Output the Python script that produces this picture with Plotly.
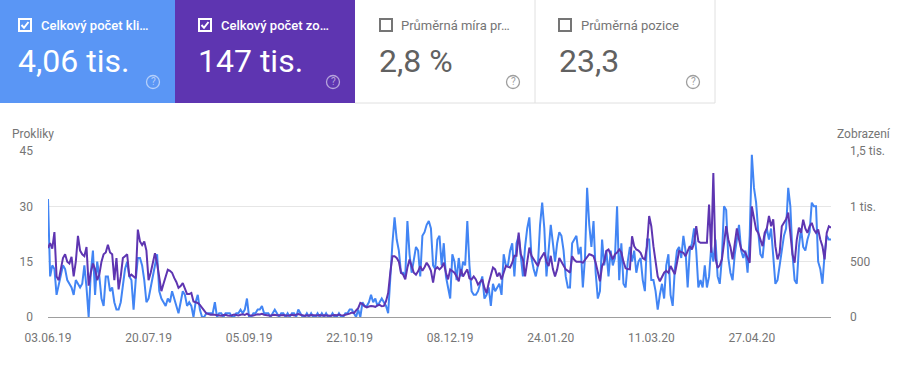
import pandas as pd
import plotly.graph_objects as go

# ---------------- data ----------------
start_date = "2019-06-03"

clicks = [
    32, 11, 14, 13, 6, 9, 12, 14, 13, 10,
    9, 8, 6, 10, 9, 8, 9, 14, 8, 0,
    12, 18, 6, 15, 11, 5, 3, 11, 11, 7,
    8, 4, 2, 2, 4, 9, 13, 15, 11, 10,
    2, 10, 16, 16, 14, 10, 4, 5, 8, 11,
    14, 17, 7, 5, 4, 3, 5, 4, 7, 5,
    3, 1, 4, 7, 6, 3, 4, 3, 0, 4,
    6, 2, 0, 0, 1, 1, 1, 1, 4, 0,
    1, 1, 0, 1, 1, 1, 0, 0, 1, 1,
    2, 1, 2, 5, 0, 0, 1, 1, 2, 2,
    3, 1, 1, 1, 0, 1, 2, 1, 0, 1,
    1, 0, 1, 0, 1, 1, 0, 2, 1, 0,
    0, 1, 0, 1, 0, 0, 1, 0, 1, 0,
    1, 0, 0, 1, 0, 0, 1, 0, 0, 1,
    1, 2, 2, 1, 0, 2, 0, 4, 3, 3,
    4, 6, 4, 5, 3, 4, 5, 4, 3, 1,
    11, 20, 27, 21, 18, 12, 12, 11, 26, 17,
    12, 16, 19, 18, 11, 22, 23, 25, 26, 24,
    14, 13, 21, 22, 14, 20, 11, 8, 5, 17,
    15, 10, 16, 11, 15, 14, 26, 14, 7, 6,
    6, 7, 9, 11, 5, 6, 8, 3, 9, 7,
    8, 9, 6, 17, 14, 14, 18, 20, 11, 20,
    22, 16, 11, 19, 24, 27, 16, 13, 11, 14,
    25, 31, 24, 11, 18, 25, 20, 15, 20, 23,
    22, 18, 11, 8, 8, 20, 21, 22, 17, 19,
    8, 16, 35, 25, 19, 26, 12, 5, 7, 21,
    14, 18, 11, 18, 14, 16, 30, 10, 20, 9,
    8, 15, 19, 15, 18, 12, 15, 16, 10, 7,
    21, 21, 10, 10, 7, 2, 6, 9, 5, 14,
    17, 6, 3, 13, 18, 19, 16, 22, 18, 8,
    18, 20, 24, 18, 8, 10, 8, 14, 8, 11,
    19, 15, 21, 11, 9, 16, 30, 29, 16, 12,
    10, 17, 21, 25, 18, 16, 18, 12, 22, 44,
    35, 31, 23, 17, 16, 22, 24, 21, 24, 16,
    9, 10, 14, 17, 22, 24, 35, 30, 17, 10,
    9, 19, 24, 19, 18, 21, 23, 31, 30, 30,
    15, 13, 9, 17, 22, 21, 21,
]

impressions = [
    623, 667, 617, 767, 367, 333, 433, 533, 567, 500,
    483, 543, 367, 500, 733, 600, 567, 550, 633, 283,
    400, 483, 433, 333, 383, 500, 567, 583, 653, 583,
    567, 333, 533, 250, 367, 533, 550, 567, 367, 383,
    367, 350, 790, 683, 650, 683, 600, 333, 400, 490,
    577, 483, 367, 233, 300, 367, 427, 417, 400, 353,
    317, 263, 280, 307, 247, 207, 207, 217, 140, 133,
    127, 110, 83, 50, 33, 27, 20, 23, 20, 17,
    15, 12, 18, 20, 14, 11, 16, 22, 18, 14,
    20, 25, 18, 30, 16, 12, 14, 19, 24, 22,
    28, 20, 17, 15, 12, 18, 21, 16, 13, 15,
    19, 14, 12, 17, 20, 15, 18, 26, 20, 14,
    12, 16, 13, 18, 15, 11, 14, 17, 13, 16,
    18, 14, 12, 16, 19, 15, 22, 17, 14, 20,
    22, 30, 40, 35, 60, 80, 127, 117, 95, 87,
    95, 100, 97, 92, 105, 110, 97, 100, 143, 217,
    400, 550, 550, 533, 500, 400, 383, 340, 447, 520,
    460, 400, 383, 413, 460, 417, 450, 490, 460, 417,
    310, 430, 450, 430, 450, 490, 400, 340, 430, 413,
    400, 367, 323, 430, 367, 400, 430, 350, 340, 367,
    340, 293, 317, 340, 263, 217, 307, 383, 447, 430,
    367, 400, 340, 400, 460, 453, 447, 490, 553, 553,
    763, 567, 520, 367, 490, 627, 553, 520, 483, 460,
    520, 550, 583, 500, 460, 553, 433, 367, 430, 533,
    500, 467, 430, 417, 400, 550, 517, 500, 500, 500,
    490, 517, 550, 567, 560, 550, 490, 400, 323, 460,
    500, 597, 610, 567, 520, 567, 583, 610, 583, 500,
    440, 433, 430, 730, 640, 610, 600, 580, 533, 520,
    640, 913, 820, 640, 520, 367, 323, 367, 400, 417,
    400, 460, 417, 387, 490, 597, 587, 580, 550, 600,
    640, 610, 667, 820, 683, 670, 667, 670, 670, 1017,
    580, 1300, 533, 443, 467, 520, 667, 820, 700, 633,
    520, 650, 800, 700, 617, 597, 580, 533, 490, 1000,
    883, 790, 760, 700, 640, 760, 800, 913, 820, 883,
    640, 520, 580, 820, 850, 883, 943, 730, 567, 490,
    700, 807, 760, 880, 800, 760, 820, 850, 790, 760,
    790, 700, 640, 520, 760, 820, 807,
]

x_tick_labels = ["03.06.19", "20.07.19", "05.09.19", "22.10.19",
                 "08.12.19", "24.01.20", "11.03.20", "27.04.20"]
left_ticks = [0, 15, 30, 45]
left_tick_labels = ["0", "15", "30", "45"]
right_ticks = [0, 500, 1000, 1500]
right_tick_labels = ["0", "500", "1 tis.", "1,5 tis."]
left_title = "Prokliky"
right_title = "Zobrazení"

card_labels = ["Celkový počet kli…", "Celkový počet zo…", "Průměrná míra pr…", "Průměrná pozice"]
card_values = ["4,06 tis.", "147 tis.", "2,8 %", "23,3"]
card_checked = [True, True, False, False]

# ---------------- layout helpers ----------------
W, H = 903, 365
L, R, T, B = 48, 831, 151, 317


def PX(x):
    return (x - L) / (R - L)


def PY(y):
    return (B - y) / (B - T)


dates = pd.date_range(start_date, periods=len(clicks), freq="D")
tick_dates = pd.to_datetime(x_tick_labels, format="%d.%m.%y")

BLUE = "#4285f4"
PURPLE = "#5e35b1"
CARD_BLUE = "#5a96f5"
CARD_PURPLE = "#5e35b1"
TICK = "#757575"
FONT = "Roboto, Arial, sans-serif"

fig = go.Figure()
fig.add_trace(go.Scatter(x=dates, y=impressions, yaxis="y2", mode="lines",
                         line=dict(color=PURPLE, width=2), name=right_title))
fig.add_trace(go.Scatter(x=dates, y=clicks, mode="lines",
                         line=dict(color=BLUE, width=2), name=left_title))

shapes = []
annotations = []

card_x = [(0, 175), (175, 355), (355, 535), (535, 715)]
card_fill = [CARD_BLUE, CARD_PURPLE, "#ffffff", "#ffffff"]
box_x = [19, 199, 380, 559]
label_x = [39, 219, 399, 579]
value_x = [16, 196, 377, 557]
icon_x = [153, 333, 513, 693]

for i in range(4):
    x0, x1 = card_x[i]
    shapes.append(dict(type="rect", xref="paper", yref="paper",
                       x0=PX(x0), x1=PX(x1), y0=PY(103), y1=PY(0),
                       fillcolor=card_fill[i], line=dict(width=0), layer="below"))
    dark = card_checked[i]
    fg = "#ffffff" if dark else "#757575"
    valc = "#ffffff" if dark else "#616161"
    bx = box_x[i]
    shapes.append(dict(type="rect", xref="paper", yref="paper",
                       x0=PX(bx), x1=PX(bx + 12), y0=PY(31), y1=PY(19),
                       line=dict(color=fg, width=2), fillcolor="rgba(0,0,0,0)"))
    if card_checked[i]:
        path = "M {} {} L {} {} L {} {}".format(
            PX(bx + 2.5), PY(25), PX(bx + 5), PY(27.8), PX(bx + 9.5), PY(22))
        shapes.append(dict(type="path", xref="paper", yref="paper", path=path,
                           line=dict(color="#ffffff", width=2)))
    annotations.append(dict(xref="paper", yref="paper", x=PX(label_x[i]), y=PY(25),
                            xanchor="left", yanchor="middle", showarrow=False,
                            text=card_labels[i],
                            font=dict(family=FONT, size=13, color=fg,
                                      weight=500 if dark else 400)))
    annotations.append(dict(xref="paper", yref="paper", x=PX(value_x[i]), y=PY(61),
                            xanchor="left", yanchor="middle", showarrow=False,
                            text=card_values[i],
                            font=dict(family=FONT, size=32, color=valc)))
    ic = "rgba(255,255,255,0.55)" if dark else "#9e9e9e"
    cx, cy = icon_x[i], 82
    shapes.append(dict(type="circle", xref="paper", yref="paper",
                       x0=PX(cx - 6.5), x1=PX(cx + 6.5), y0=PY(cy + 6.5), y1=PY(cy - 6.5),
                       line=dict(color=ic, width=1.3)))
    annotations.append(dict(xref="paper", yref="paper", x=PX(cx), y=PY(cy),
                            xanchor="center", yanchor="middle", showarrow=False,
                            text="?", font=dict(family=FONT, size=10, color=ic)))

for xx in (535, 715):
    shapes.append(dict(type="line", xref="paper", yref="paper",
                       x0=PX(xx), x1=PX(xx), y0=PY(0), y1=PY(103),
                       line=dict(color="#e0e0e0", width=1)))
shapes.append(dict(type="line", xref="paper", yref="paper",
                   x0=PX(355), x1=PX(715), y0=PY(103), y1=PY(103),
                   line=dict(color="#e0e0e0", width=1)))

annotations.append(dict(xref="paper", yref="paper", x=PX(10), y=PY(134),
                        xanchor="left", yanchor="middle", showarrow=False,
                        text=left_title, font=dict(family=FONT, size=12, color=TICK)))
annotations.append(dict(xref="paper", yref="paper", x=PX(893), y=PY(134),
                        xanchor="right", yanchor="middle", showarrow=False,
                        text=right_title, font=dict(family=FONT, size=12, color=TICK)))

fig.update_layout(
    width=W, height=H,
    margin=dict(l=L, r=W - R, t=T, b=H - B, pad=0),
    paper_bgcolor="#ffffff", plot_bgcolor="#ffffff",
    showlegend=False,
    font=dict(family=FONT, size=12, color=TICK),
    shapes=shapes, annotations=annotations,
    hovermode=False,
    xaxis=dict(type="date", range=[dates[0], dates[-1]],
               tickmode="array", tickvals=tick_dates, ticktext=x_tick_labels,
               showgrid=False, zeroline=False, showline=True,
               linecolor="#9e9e9e", linewidth=1, ticks="",
               tickfont=dict(size=12, color=TICK), ticklabelstandoff=10),
    yaxis=dict(range=[0, 45], tickmode="array", tickvals=left_ticks,
               ticktext=left_tick_labels,
               showgrid=True, gridcolor="#e6e6e6", gridwidth=1,
               zeroline=False, showline=False, ticks="",
               tickfont=dict(size=12, color=TICK), ticklabelstandoff=14),
    yaxis2=dict(range=[0, 1500], overlaying="y", side="right",
                tickmode="array", tickvals=right_ticks, ticktext=right_tick_labels,
                showgrid=False, zeroline=False, showline=False, ticks="",
                tickfont=dict(size=12, color=TICK), ticklabelstandoff=18),
)

fig.write_html("out.html", config={"displayModeBar": False},
               post_script="document.body.style.margin='0';document.body.style.overflow='hidden';")
